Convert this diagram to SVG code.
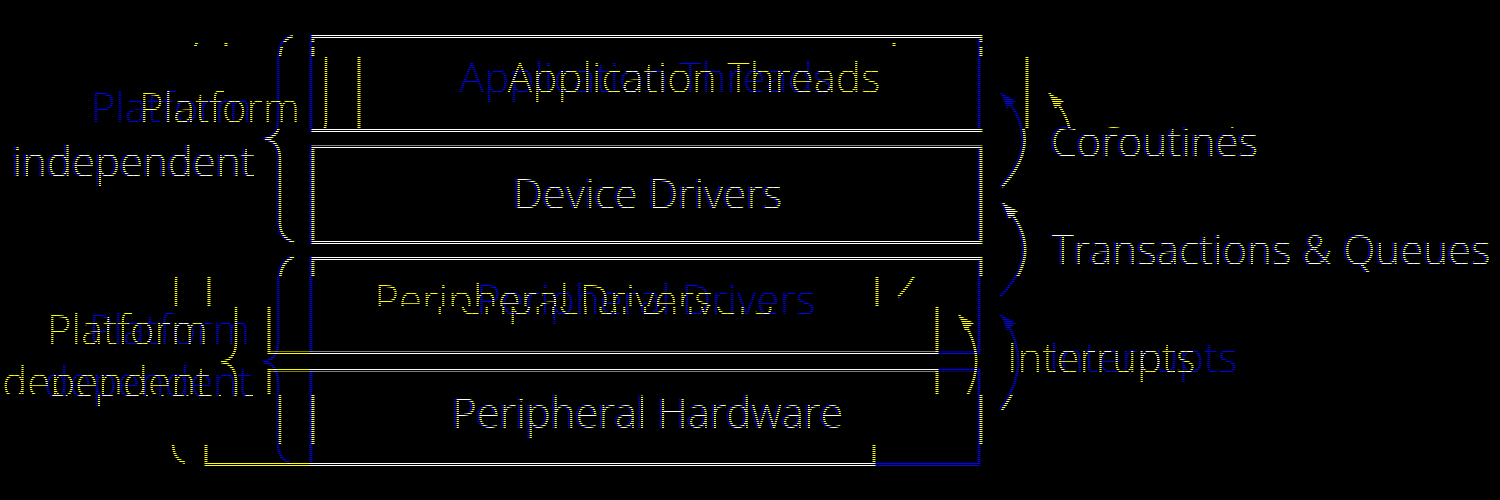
<svg xmlns="http://www.w3.org/2000/svg" width="1500" height="500" viewBox="0 0 1500 500">
<style>
.ln{fill:none;stroke:currentColor;stroke-width:3}
.ar{fill:none;stroke:currentColor;stroke-width:2.5}
.hd{fill:currentColor;stroke:none}
.tx{fill:currentColor;font-family:"Open Sans","Noto Sans",sans-serif;font-size:42px;font-weight:300}
.mid{text-anchor:middle}
.end{text-anchor:end}
.blue{color:#0000ff}
.yel{color:#ffff00;mix-blend-mode:screen}
</style>
<defs>
<pattern id="scan" patternUnits="userSpaceOnUse" x="0" y="0" width="20" height="2"><rect x="0" y="0" width="20" height="1" fill="#000"/></pattern>
<clipPath id="c-neutral" clipPathUnits="userSpaceOnUse"><rect x="0" y="0" width="1500" height="43"/><rect x="0" y="46" width="1500" height="11"/><rect x="0" y="129" width="1500" height="148"/><rect x="0" y="394" width="1500" height="51"/></clipPath>
<clipPath id="c-dots" clipPathUnits="userSpaceOnUse"><rect x="0" y="43" width="1500" height="3"/></clipPath>
<clipPath id="c-a" clipPathUnits="userSpaceOnUse"><rect x="0" y="57" width="1500" height="72"/></clipPath>
<clipPath id="c-b" clipPathUnits="userSpaceOnUse"><rect x="0" y="277" width="1500" height="30"/></clipPath>
<clipPath id="c-c" clipPathUnits="userSpaceOnUse"><rect x="0" y="307" width="1500" height="87"/></clipPath>
<clipPath id="c-e" clipPathUnits="userSpaceOnUse"><rect x="0" y="445" width="1500" height="55"/></clipPath>
<path id="head" d="M0,0 L15,8 L6,16 Z"/>
</defs>
<rect x="0" y="0" width="1500" height="500" fill="#000"/>
<g class="blue">
<g id="diagram">
  <g id="node-app"><rect class="ln" x="311" y="36.5" width="668" height="94"/><text class="tx mid" x="646" y="93">Application Threads</text></g>
  <g id="node-dev"><rect class="ln" x="311" y="147" width="668" height="95.5"/><text class="tx mid" x="646" y="209">Device Drivers</text></g>
  <g id="node-pdrv"><rect class="ln" x="311" y="258.5" width="668" height="94.5"/><text class="tx mid" x="646" y="315">Peripheral Drivers</text></g>
  <g id="node-phw"><rect class="ln" x="311" y="370" width="668" height="94.5"/><text class="tx mid" x="646" y="428">Peripheral Hardware</text></g>
  <g id="group-independent"><path class="ar" d="M291,36 Q278,40 278,60 L278,120 Q278,137 263,139 Q278,141 278,158 L278,222 Q278,238 292,242"/><text class="tx end" x="252" y="123">Platform</text><text class="tx end" x="253" y="177">independent</text></g>
  <g id="group-dependent"><path class="ar" d="M292,257 Q278,262 278,282 L278,342 Q278,360 263,362 Q278,364 278,382 L278,443 Q278,459 290,463"/><text class="tx end" x="250" y="345">Platform</text><text class="tx end" x="252" y="397">dependent</text></g>
  <g id="connectors">
    <g id="edge-coroutines"><path class="ar" d="M1000,187 Q1045,140 1001,93"/><use href="#head" class="hd" x="1001" y="93"/><text class="tx" x="1049" y="157">Coroutines</text></g>
    <g id="edge-transactions"><path class="ar" d="M1000,297 Q1046,250 1001,203"/><use href="#head" class="hd" x="1001" y="203"/><text class="tx" x="1050" y="265">Transactions &amp; Queues</text></g>
    <g id="edge-interrupts"><path class="ar" d="M1000,410 Q1036,362 1001,315"/><use href="#head" class="hd" x="1001" y="315"/><text class="tx" x="1049" y="373">Interrupts</text></g>
  </g>
</g>
</g>
<g class="yel">
  <g clip-path="url(#c-neutral)"><use href="#diagram" x="2"/></g>
  <g clip-path="url(#c-dots)"><use href="#diagram" x="-85"/></g>
  <g clip-path="url(#c-a)"><use href="#diagram" x="48"/></g>
  <g clip-path="url(#c-b)"><use href="#diagram" x="-102"/></g>
  <g clip-path="url(#c-c)"><use href="#diagram" x="-42"/></g>
  <g clip-path="url(#c-e)"><use href="#diagram" x="-105"/></g>
</g>
<rect x="0" y="0" width="1500" height="500" fill="url(#scan)"/>
</svg>
